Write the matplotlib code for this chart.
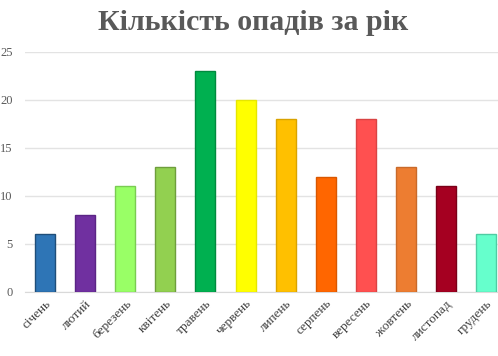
import numpy as np
from matplotlib import pyplot as plt

# дані
months = ['січень', 'лютий', 'березень', 'квітень', 'травень', 'червень',
          'липень', 'серпень', 'вересень', 'жовтень', 'листопад', 'грудень']
values = [6, 8, 11, 13, 23, 20, 18, 12, 18, 13, 11, 6]
colors = ['#2E75B6', '#7030A0', '#99FF66', '#92D050', '#00B050', '#FFFF00',
          '#FFC000', '#FF6600', '#FF5050', '#ED7D31', '#A50021', '#66FFCC']
edges = ['#1F4E79', '#5B2585', '#7ACC52', '#6E9E3C', '#008A3E', '#E6E600',
         '#D9A300', '#D95700', '#D94444', '#C96A2A', '#7A0018', '#4FCCA3']
yticks = [0, 5, 10, 15, 20, 25]

plt.rcParams['font.family'] = ['Liberation Serif', 'DejaVu Serif']
fig = plt.figure(figsize=(4.98, 3.56), dpi=100)
ax = fig.add_axes([25/498, 1-292/356, 473/498, 240/356])
x = np.arange(len(months))
ax.bar(x, values, width=0.5, color=colors, edgecolor=edges, linewidth=1.0, zorder=3)
ax.set_ylim(0, 25); ax.set_xlim(-0.5, -0.5 + 473/40.1)
ax.set_yticks(yticks)
ax.yaxis.grid(True, color='#E3E3E3', linewidth=1.0, zorder=0)
for s in ['top', 'right', 'left']:
    ax.spines[s].set_visible(False)
ax.spines['bottom'].set_color('#D9D9D9')
ax.tick_params(axis='both', length=0, labelsize=9, colors='#595959')
ax.tick_params(axis='y', pad=9)
ax.set_xticks(x)
ax.set_xticklabels(months, rotation=45, ha='right', rotation_mode='anchor',
                   fontsize=9.5, color='#404040')
ax.tick_params(axis='x', pad=4)
fig.text(253/498, 1-23/356, 'Кількість опадів за рік', ha='center', va='center',
         fontsize=21.5, fontweight='bold', color='#595959')
plt.savefig('out.png', dpi=100)
